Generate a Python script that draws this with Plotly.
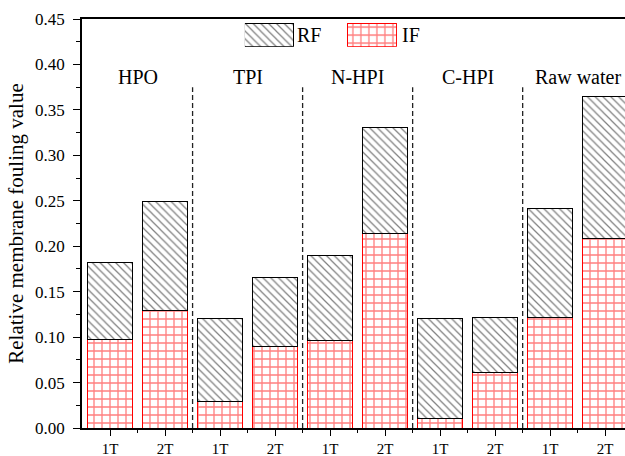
import plotly.graph_objects as go

# ---- data ----
groups = ["HPO", "TPI", "N-HPI", "C-HPI", "Raw water"]
tick_labels = ["1T", "2T", "1T", "2T", "1T", "2T", "1T", "2T", "1T", "2T"]
if_values = [0.097, 0.129, 0.029, 0.090, 0.096, 0.214, 0.010, 0.061, 0.122, 0.209]
rf_values = [0.085, 0.120, 0.091, 0.076, 0.094, 0.117, 0.110, 0.061, 0.119, 0.156]
legend_names = ["RF", "IF"]
y_ticks = [0.00, 0.05, 0.10, 0.15, 0.20, 0.25, 0.30, 0.35, 0.40, 0.45]

FONT = "Liberation Serif"
W, H = 625, 456
ML, MR, MT, MB = 82, 0, 19, 28

x_pos = list(range(len(tick_labels)))

rf_pattern = dict(shape="\\", fgcolor="black", bgcolor="white", size=5.5, solidity=0.22)
if_pattern = dict(shape="+", fgcolor="#ff0000", bgcolor="white", size=8, solidity=0.3)

fig = go.Figure()
fig.add_trace(go.Bar(x=x_pos, y=if_values, name="IF", width=0.82,
                     marker=dict(color="white", pattern=if_pattern,
                                 line=dict(color="#ff0000", width=1)),
                     showlegend=False))
fig.add_trace(go.Bar(x=x_pos, y=rf_values, name="RF", width=0.82,
                     marker=dict(color="white", pattern=rf_pattern,
                                 line=dict(color="black", width=1)),
                     showlegend=False))

# legend swatches drawn on a small secondary axis
fig.add_trace(go.Bar(x=[0], y=[1], width=0.476, xaxis="x2", yaxis="y2",
                     marker=dict(color="white", pattern=rf_pattern,
                                 line=dict(color="black", width=1)),
                     showlegend=False, hoverinfo="skip"))
fig.add_trace(go.Bar(x=[1], y=[1], width=0.476, xaxis="x2", yaxis="y2",
                     marker=dict(color="white", pattern=if_pattern,
                                 line=dict(color="#ff0000", width=1)),
                     showlegend=False, hoverinfo="skip"))
legend_text_x = [0.392, 0.586]
for nm, lx in zip(legend_names, legend_text_x):
    fig.add_annotation(x=lx, y=0.961, xref="paper", yref="paper", text=nm,
                       showarrow=False, xanchor="left", yanchor="middle",
                       font=dict(family=FONT, size=20, color="black"))

# group labels and separators
n_per = len(tick_labels) // len(groups)
for g, name in enumerate(groups):
    cx = g * n_per + (n_per - 1) / 2
    fig.add_annotation(x=cx, y=0.386, xref="x", yref="y", text=name,
                       showarrow=False, xanchor="center", yanchor="middle",
                       font=dict(family=FONT, size=20, color="black"))
    if g > 0:
        sx = g * n_per - 0.5
        fig.add_shape(type="line", x0=sx, x1=sx, y0=0, y1=0.375, xref="x", yref="y",
                      line=dict(color="#222222", width=1.3, dash="5px,3px"))

fig.update_layout(
    width=W, height=H,
    margin=dict(l=ML, r=MR, t=MT, b=MB, autoexpand=False),
    paper_bgcolor="white", plot_bgcolor="white",
    barmode="stack",
    font=dict(family=FONT, size=16, color="black"),
    xaxis=dict(range=[-0.51, 9.36], tickmode="array", tickvals=x_pos, ticktext=tick_labels,
               showline=True, linecolor="black", linewidth=1.5, mirror=True,
               ticks="outside", ticklen=6, tickwidth=1, tickcolor="black",
               minor=dict(tickvals=[p + 0.5 for p in x_pos], ticks="outside", ticklen=3,
                          tickwidth=1, tickcolor="black"),
               showgrid=False, zeroline=False, automargin=False,
               tickfont=dict(family=FONT, size=15, color="black"),
               ticklabelstandoff=0),
    yaxis=dict(range=[0, 0.45], tickmode="array", tickvals=y_ticks,
               ticktext=[f"{v:.2f}" for v in y_ticks],
               showline=True, linecolor="black", linewidth=1.5, mirror=False,
               ticks="outside", ticklen=7, tickwidth=1, tickcolor="black",
               minor=dict(dtick=0.025, ticks="outside", ticklen=4, tickwidth=1,
                          tickcolor="black"),
               showgrid=False, zeroline=False, automargin=False,
               tickfont=dict(family=FONT, size=17, color="black"),
               ticklabelstandoff=5,
               title=dict(text="Relative membrane fouling value", standoff=6,
                          font=dict(family=FONT, size=21, color="black"))),
    xaxis2=dict(domain=[0.300, 0.580], range=[-0.238, 1.238], anchor="y2",
                visible=False, fixedrange=True),
    yaxis2=dict(domain=[0.932, 0.990], range=[0, 1], anchor="x2",
                visible=False, fixedrange=True),
)

fig.write_html("out.html", config={"displayModeBar": False},
               post_script="document.body.style.margin='0';document.body.style.overflow='hidden';")
